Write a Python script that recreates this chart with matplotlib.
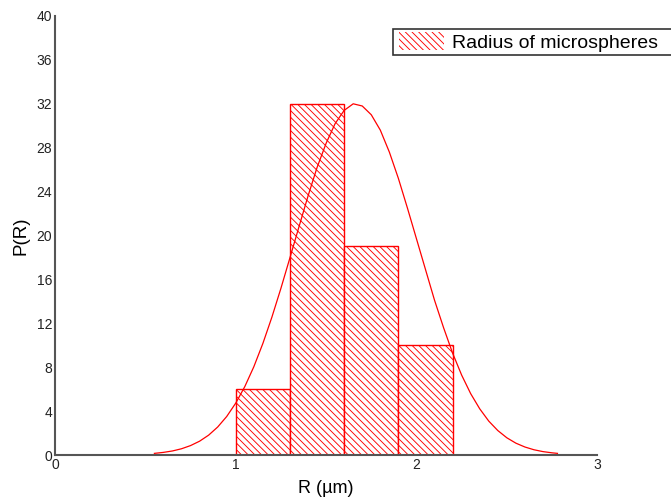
import matplotlib
matplotlib.use("Agg")
import matplotlib.pyplot as plt
import matplotlib.patches as mpatches

# histogram of microsphere radii
bin_left = [1.0, 1.3, 1.6, 1.9]
bin_width = [0.3, 0.3, 0.3, 0.3]
counts = [6, 32, 19, 10]

# fitted curve
curve_r = [0.55, 0.60, 0.65, 0.70, 0.75, 0.80, 0.85, 0.90, 0.95, 1.00, 1.05, 1.10,
           1.15, 1.20, 1.25, 1.30, 1.35, 1.40, 1.45, 1.50, 1.55, 1.60, 1.65, 1.70,
           1.75, 1.80, 1.85, 1.90, 1.95, 2.00, 2.05, 2.10, 2.15, 2.20, 2.25, 2.30,
           2.35, 2.40, 2.45, 2.50, 2.55, 2.60, 2.65, 2.70, 2.75, 2.78]
curve_p = [0.15, 0.24, 0.37, 0.57, 0.86, 1.26, 1.81, 2.55, 3.51, 4.73, 6.23, 8.04,
           10.16, 12.56, 15.19, 17.98, 20.8, 23.6, 26.2, 28.4, 30.2, 31.4, 32.0, 31.8,
           31.0, 29.6, 27.6, 25.2, 22.5, 19.7, 16.9, 14.1, 11.6, 9.28, 7.28, 5.59,
           4.21, 3.09, 2.23, 1.57, 1.08, 0.73, 0.48, 0.31, 0.20, 0.15]

xticks = [0, 1, 2, 3]
yticks = list(range(0, 41, 4))

plt.rcParams['font.family'] = ['Liberation Sans', 'DejaVu Sans']
plt.rcParams['hatch.linewidth'] = 0.65

HATCH = '\\\\\\\\\\'

fig = plt.figure(figsize=(6.71, 5.03), dpi=100)
ax = fig.add_axes([0.082, 0.0954, 0.808, 0.8728])

ax.bar(bin_left, counts, width=bin_width, align='edge', facecolor='white',
       edgecolor='red', hatch=HATCH, linewidth=1.0, zorder=2)
ax.plot(curve_r, curve_p, color='red', linewidth=0.9, zorder=3)

ax.set_xlim(0, 3)
ax.set_ylim(0, 40)
ax.set_xticks(xticks)
ax.set_yticks(yticks)
ax.tick_params(length=0, labelsize=10, pad=2, colors='#222222')

for s in ['top', 'right']:
    ax.spines[s].set_visible(False)
for s in ['left', 'bottom']:
    ax.spines[s].set_color('#555555')
    ax.spines[s].set_linewidth(1.5)

ax.set_xlabel('R (µm)', fontsize=13, labelpad=6)
ax.set_ylabel('P(R)', fontsize=13.5, labelpad=5)

# legend box runs off the right edge of the figure, as in the original
frame = mpatches.Rectangle((393 / 671, 1 - 55 / 503), 0.5, 26 / 503,
                           transform=fig.transFigure, facecolor='white',
                           edgecolor='#333333', linewidth=1.2, clip_on=False, zorder=5)
fig.patches.append(frame)

handle = mpatches.Patch(facecolor='white', edgecolor='red', linewidth=0, hatch=HATCH)
leg = fig.legend([handle], ['Radius of microspheres'], loc='upper left',
                 bbox_to_anchor=(396 / 671, 1 - 29 / 503), frameon=False,
                 fontsize=14, handlelength=2.3, handleheight=1.05,
                 borderpad=0.15, handletextpad=0.45, borderaxespad=0)
leg.set_zorder(6)

fig.savefig('out.png', dpi=100)
